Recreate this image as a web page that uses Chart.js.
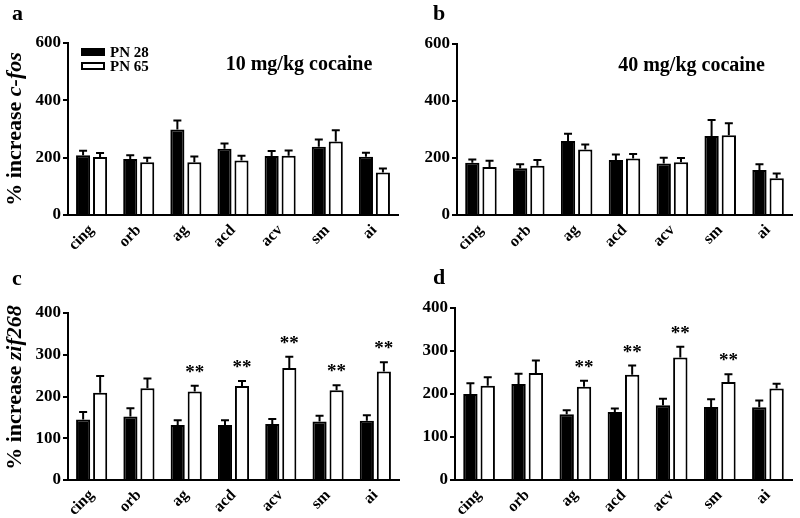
<!doctype html>
<html lang="en">
<head>
  <meta charset="utf-8">
  <title>c-fos / zif268</title>
  <style>
    body { margin: 0; background: #fff; }
    #wrap { position: relative; width: 800px; height: 518px; }
    canvas { position: absolute; }
  </style>
</head>
<body>
  <div id="wrap">
    <canvas id="panelA" width="400" height="259" style="left:0;top:0"></canvas>
    <canvas id="panelB" width="400" height="259" style="left:400px;top:0"></canvas>
    <canvas id="panelC" width="400" height="268" style="left:0;top:250px"></canvas>
    <canvas id="panelD" width="400" height="268" style="left:400px;top:250px"></canvas>
  </div>

  <script src="https://cdn.jsdelivr.net/npm/chart.js@4/dist/chart.umd.min.js"></script>
  <script>
  const regions = ['cing', 'orb', 'ag', 'acd', 'acv', 'sm', 'ai'];
  const groups = ['PN 28', 'PN 65'];

  // a: c-fos, 10 mg/kg
  const fos10_pn28 = [208, 195, 298, 231, 206, 238, 203];
  const fos10_pn28_sem = [16, 13, 32, 18, 17, 25, 14];
  const fos10_pn65 = [202, 184, 184, 190, 207, 256, 148];
  const fos10_pn65_sem = [14, 16, 20, 17, 18, 40, 14];

  // b: c-fos, 40 mg/kg
  const fos40_pn28 = [183, 164, 260, 193, 181, 277, 158];
  const fos40_pn28_sem = [12, 14, 25, 19, 20, 56, 20];
  const fos40_pn65 = [168, 173, 230, 198, 185, 280, 129];
  const fos40_pn65_sem = [22, 20, 17, 16, 15, 42, 17];

  // c: zif268, 10 mg/kg
  const zif10_pn28 = [145, 152, 132, 132, 134, 140, 142];
  const zif10_pn28_sem = [18, 20, 11, 11, 12, 14, 13];
  const zif10_pn65 = [209, 220, 212, 225, 268, 215, 260];
  const zif10_pn65_sem = [40, 23, 14, 12, 27, 12, 22];
  const zif10_sig = ['', '', '**', '**', '**', '**', '**'];

  // d: zif268, 40 mg/kg
  const zif40_pn28 = [200, 223, 153, 158, 174, 170, 169];
  const zif40_pn28_sem = [25, 24, 9, 8, 15, 18, 16];
  const zif40_pn65 = [219, 249, 217, 245, 285, 228, 213];
  const zif40_pn65_sem = [20, 29, 14, 21, 25, 18, 11];
  const zif40_sig = ['', '', '**', '**', '**', '**', ''];

  const FONT = "'Liberation Serif', 'DejaVu Serif', serif";

  // error bars (upward only) + significance stars
  const errorBars = {
    id: 'errorBars',
    afterDatasetsDraw(chart) {
      const ctx = chart.ctx;
      const y = chart.scales.y;
      chart.data.datasets.forEach((ds, i) => {
        const meta = chart.getDatasetMeta(i);
        meta.data.forEach((bar, j) => {
          const top = y.getPixelForValue(ds.data[j] + ds.sem[j]);
          ctx.save();
          ctx.strokeStyle = '#000';
          ctx.lineWidth = 2;
          ctx.beginPath();
          ctx.moveTo(bar.x, bar.y);
          ctx.lineTo(bar.x, top);
          ctx.moveTo(bar.x - 4, top);
          ctx.lineTo(bar.x + 4, top);
          ctx.stroke();
          if (ds.sig && ds.sig[j]) {
            ctx.fillStyle = '#000';
            ctx.font = 'bold 19px ' + FONT;
            ctx.textAlign = 'center';
            ctx.textBaseline = 'middle';
            ctx.fillText(ds.sig[j], bar.x, top - 13);
          }
          ctx.restore();
        });
      });
    }
  };

  // panel letter, y title with italic gene name, dose title, legend
  const decorations = {
    id: 'decorations',
    afterDraw(chart, args, opts) {
      const ctx = chart.ctx;
      const area = chart.chartArea;
      ctx.save();
      ctx.fillStyle = '#000';
      ctx.textBaseline = 'middle';

      ctx.font = 'bold 22px ' + FONT;
      ctx.textAlign = 'left';
      ctx.fillText(opts.letter, opts.letterX, opts.letterY);

      if (opts.yTitle) {
        const f1 = 'bold 22px ' + FONT;
        const f2 = 'italic bold 22px ' + FONT;
        ctx.font = f1;
        const w1 = ctx.measureText(opts.yTitle[0]).width;
        ctx.font = f2;
        const w2 = ctx.measureText(opts.yTitle[1]).width;
        ctx.translate(15, (area.top + area.bottom) / 2 + (opts.titleShift || 0));
        ctx.rotate(-Math.PI / 2);
        let x = -(w1 + w2) / 2;
        ctx.font = f1;
        ctx.fillText(opts.yTitle[0], x, 0);
        ctx.font = f2;
        ctx.fillText(opts.yTitle[1], x + w1, 0);
        ctx.setTransform(1, 0, 0, 1, 0, 0);
      }

      if (opts.dose) {
        ctx.font = 'bold 20px ' + FONT;
        ctx.textAlign = 'center';
        ctx.fillText(opts.dose, area.left + area.width * 0.70, area.top + 22);
      }

      if (opts.legend) {
        ctx.font = 'bold 15px ' + FONT;
        ctx.textAlign = 'left';
        chart.data.datasets.forEach((ds, i) => {
          const ly = area.top + 9 + i * 14;
          ctx.fillStyle = ds.backgroundColor;
          ctx.fillRect(area.left + 13, ly - 4, 24, 8);
          ctx.strokeStyle = '#000';
          ctx.lineWidth = 2;
          ctx.strokeRect(area.left + 14, ly - 3, 22, 6);
          ctx.fillStyle = '#000';
          ctx.fillText(ds.label, area.left + 42, ly + 1);
        });
      }
      ctx.restore();
    }
  };

  function makeChart(id, pn28, pn28Sem, pn65, pn65Sem, sig, yMax, yStep, box, deco) {
    const ctx = document.getElementById(id).getContext('2d');
    return new Chart(ctx, {
      type: 'bar',
      data: {
        labels: regions,
        datasets: [
          {
            label: groups[0],
            data: pn28,
            sem: pn28Sem,
            backgroundColor: '#000',
            borderColor: '#000',
            borderWidth: 2,
            categoryPercentage: 0.72,
            barPercentage: 0.83
          },
          {
            label: groups[1],
            data: pn65,
            sem: pn65Sem,
            sig: sig,
            backgroundColor: '#fff',
            borderColor: '#000',
            borderWidth: 2,
            categoryPercentage: 0.72,
            barPercentage: 0.83
          }
        ]
      },
      options: {
        responsive: false,
        animation: false,
        devicePixelRatio: 1,
        layout: { padding: { top: box.top, right: box.right, left: 0, bottom: 0 } },
        plugins: {
          legend: { display: false },
          tooltip: { enabled: false },
          decorations: deco
        },
        scales: {
          x: {
            grid: { display: false },
            border: { display: true, color: '#000', width: 2 },
            ticks: {
              color: '#000',
              font: { family: FONT, size: 16, weight: 'bold' },
              minRotation: 45,
              maxRotation: 45,
              padding: -2
            },
            afterFit(scale) { scale.height = box.xh; }
          },
          y: {
            min: 0,
            max: yMax,
            grid: { drawOnChartArea: false, drawTicks: true, tickLength: 5, color: '#000', lineWidth: 2 },
            border: { display: true, color: '#000', width: 2 },
            ticks: {
              stepSize: yStep,
              color: '#000',
              font: { family: FONT, size: 17, weight: 'bold' },
              padding: 2
            },
            afterFit(scale) { scale.width = box.yw; }
          }
        }
      },
      plugins: [errorBars, decorations]
    });
  }

  makeChart('panelA', fos10_pn28, fos10_pn28_sem, fos10_pn65, fos10_pn65_sem, null, 600, 200,
    { top: 43, right: 2, yw: 68, xh: 44 },
    { letter: 'a', letterX: 12, letterY: 14, yTitle: ['% increase ', 'c-fos'], dose: '10 mg/kg cocaine', legend: true });

  makeChart('panelB', fos40_pn28, fos40_pn28_sem, fos40_pn65, fos40_pn65_sem, null, 600, 200,
    { top: 44, right: 8, yw: 57, xh: 44 },
    { letter: 'b', letterX: 33, letterY: 14, dose: '40 mg/kg cocaine' });

  makeChart('panelC', zif10_pn28, zif10_pn28_sem, zif10_pn65, zif10_pn65_sem, zif10_sig, 400, 100,
    { top: 63, right: 1, yw: 68, xh: 38 },
    { letter: 'c', letterX: 12, letterY: 29, yTitle: ['% increase ', 'zif268'], titleShift: -9 });

  makeChart('panelD', zif40_pn28, zif40_pn28_sem, zif40_pn65, zif40_pn65_sem, zif40_sig, 400, 100,
    { top: 58, right: 8, yw: 55, xh: 38 },
    { letter: 'd', letterX: 33, letterY: 28 });
  </script>
</body>
</html>
